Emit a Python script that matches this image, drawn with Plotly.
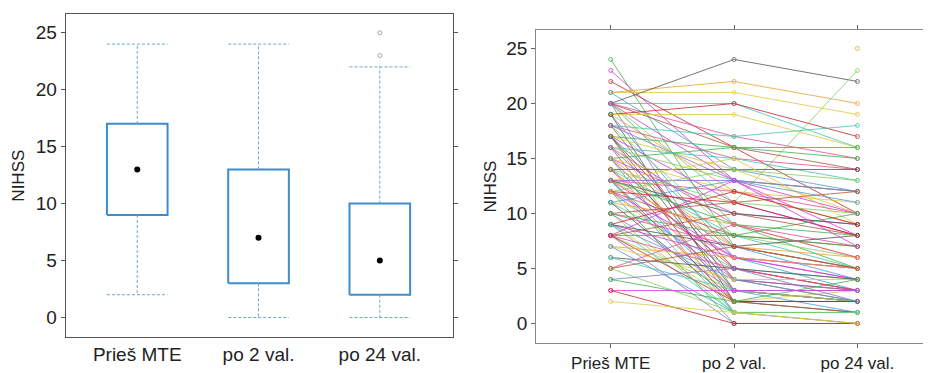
import plotly.graph_objects as go

# ---------------- data ----------------
categories = ["Prieš MTE", "po 2 val.", "po 24 val."]

# box-plot summary
box_q1 = [9, 3, 2]
box_median = [13, 7, 5]
box_q3 = [17, 13, 10]
box_low = [2, 0, 0]
box_high = [24, 24, 22]
outlier_group = [3, 3]
outlier_value = [23, 25]

# individual patients (right panel): NIHSS at the three time points
nihss_before = [24, 23, 22, 21, 21, 21, 20, 20, 20, 20, 20, 20, 20, 20,
                19, 19, 19, 19, 19, 18, 18, 18, 18, 18, 17, 17, 17, 17, 17, 17, 17,
                16, 16, 16, 16, 16, 15, 15, 15, 15, 15, 15, 14, 14, 14, 14, 14,
                13, 13, 13, 13, 13, 13, 13, 13, 13, 13, 12, 12, 12, 12, 12, 12, 12,
                11, 11, 11, 11, 10, 10, 10, 10, 10, 9, 9, 9, 9, 9, 9, 9,
                8, 8, 8, 8, 8, 8, 8, 7, 7, 7, 6, 6, 5, 5, 5, 4, 4, 3, 3, 2]
nihss_2h = [7, 13, 16, 21, 22, 14, 24, 20, 17, 11, 16, 3, 9, 13,
            20, 19, 12, 6, 2, 17, 15, 8, 4, 13, 16, 11, 5, 14, 1, 7, 3,
            15, 9, 13, 2, 6, 16, 10, 4, 12, 7, 1, 14, 8, 3, 11, 5,
            13, 9, 6, 2, 15, 7, 3, 10, 1, 12, 14, 8, 4, 0, 6, 11, 3,
            9, 13, 2, 5, 7, 1, 11, 3, 8, 6, 12, 2, None, 4, 7, 1,
            5, 3, 10, 0, 8, 13, 2, 4, 6, 1, 5, 3, 9, 1, 7, 5, 2, 3, 0, 1]
nihss_24h = [5, 8, 10, 19, 20, 12, 22, 16, 15, 23, 14, 2, 5, 10,
             17, 16, 9, 3, 1, 18, 14, 6, 2, 12, 16, 8, 3, 10, 0, 4, 2,
             13, 7, 12, 1, 5, 15, 9, 3, 11, 5, 1, 14, 5, 2, 10, 3,
             12, 8, 4, 2, 9, 6, 1, 9, 0, 10, 13, 7, 3, 0, 5, 8, 2,
             6, 11, 2, 4, 5, 1, 12, 2, 10, 4, 9, 3, 25, 2, 8, 1,
             3, 2, 8, 0, 7, 7, 2, 4, 5, 1, 4, 3, 6, 1, 5, 2, 4, 3, 0, 0]

palette = ["#3cb44b", "#d63ad6", "#c82828", "#e0c840", "#f0a030", "#4a9fd4",
           "#555555", "#40c8b0", "#e0509a", "#7fd35f", "#b05a3a", "#8a6fd0"]

# ---------------- figure ----------------
fig = go.Figure()
xpos = [1, 2, 3]
half = 0.25
box_col = "#3d8ccc"
whisk_col = "#6ea6cc"

for i, x in enumerate(xpos):
    fig.add_trace(go.Scatter(
        x=[x - half, x + half, x + half, x - half, x - half],
        y=[box_q1[i], box_q1[i], box_q3[i], box_q3[i], box_q1[i]],
        mode="lines", line=dict(color=box_col, width=2),
        xaxis="x", yaxis="y", hoverinfo="skip"))
    for a, b in [(box_q3[i], box_high[i]), (box_q1[i], box_low[i])]:
        fig.add_trace(go.Scatter(
            x=[x, x], y=[a, b], mode="lines",
            line=dict(color=whisk_col, width=1, dash="3px,2px"),
            xaxis="x", yaxis="y", hoverinfo="skip"))
    for v in [box_high[i], box_low[i]]:
        fig.add_trace(go.Scatter(
            x=[x - half, x + half], y=[v, v], mode="lines",
            line=dict(color=whisk_col, width=1, dash="3px,2px"),
            xaxis="x", yaxis="y", hoverinfo="skip"))

fig.add_trace(go.Scatter(
    x=xpos, y=box_median, mode="markers",
    marker=dict(color="black", size=6), xaxis="x", yaxis="y"))
fig.add_trace(go.Scatter(
    x=outlier_group, y=outlier_value, mode="markers",
    marker=dict(symbol="circle-open", color="#9aaabb", size=4, line=dict(width=1)),
    xaxis="x", yaxis="y"))

for k in range(len(nihss_before)):
    c = palette[k % len(palette)]
    fig.add_trace(go.Scatter(
        x=xpos, y=[nihss_before[k], nihss_2h[k], nihss_24h[k]],
        mode="lines+markers", connectgaps=False, opacity=0.8,
        line=dict(color=c, width=1),
        marker=dict(symbol="circle-open", size=4, color=c, line=dict(width=1)),
        xaxis="x2", yaxis="y2"))

# the page body has an 8px margin: figure pixel = screen pixel - 8
OFF = 8
W, H = 931 - OFF, 373 - OFF


def fx(px):
    return (px - OFF) / W


def fy(py):
    return 1 - (py - OFF) / H


font_fam = "Liberation Sans, Arial, sans-serif"

fig.update_layout(
    width=W, height=H,
    margin=dict(l=0, r=0, t=0, b=0),
    paper_bgcolor="white", plot_bgcolor="white",
    showlegend=False,
    font=dict(family=font_fam, color="#222222"),
    xaxis=dict(domain=[fx(66), fx(455)], range=[0.41, 3.6],
               tickvals=xpos, ticktext=categories, ticks="",
               showline=True, linecolor="#555555", linewidth=1, mirror=True,
               showgrid=False, zeroline=False, tickfont=dict(size=19),
               anchor="y"),
    yaxis=dict(domain=[fy(341), fy(14)], range=[-1.74, 26.65],
               tickvals=[0, 5, 10, 15, 20, 25], ticks="outside", ticklen=4,
               tickcolor="#555555",
               showline=True, linecolor="#555555", linewidth=1, mirror="allticks",
               showgrid=False, zeroline=False, tickfont=dict(size=19),
               title=dict(text="NIHSS", font=dict(size=17), standoff=6),
               anchor="x"),
    xaxis2=dict(domain=[fx(539), 1.0], range=[0.395, 3.556],
                tickvals=xpos, ticktext=categories, ticks="outside", ticklen=4,
                tickcolor="#666666",
                showline=True, linecolor="#888888", linewidth=1, mirror="allticks",
                showgrid=False, zeroline=False, tickfont=dict(size=17),
                anchor="y2"),
    yaxis2=dict(domain=[fy(347), fy(30)], range=[-1.8, 26.7],
                tickvals=[0, 5, 10, 15, 20, 25], ticks="outside", ticklen=4,
                tickcolor="#666666",
                showline=True, linecolor="#888888", linewidth=1, mirror="allticks",
                showgrid=False, zeroline=False, tickfont=dict(size=19),
                title=dict(text="NIHSS", font=dict(size=17), standoff=5),
                anchor="x2"),
)

fig.write_html("out.html")
